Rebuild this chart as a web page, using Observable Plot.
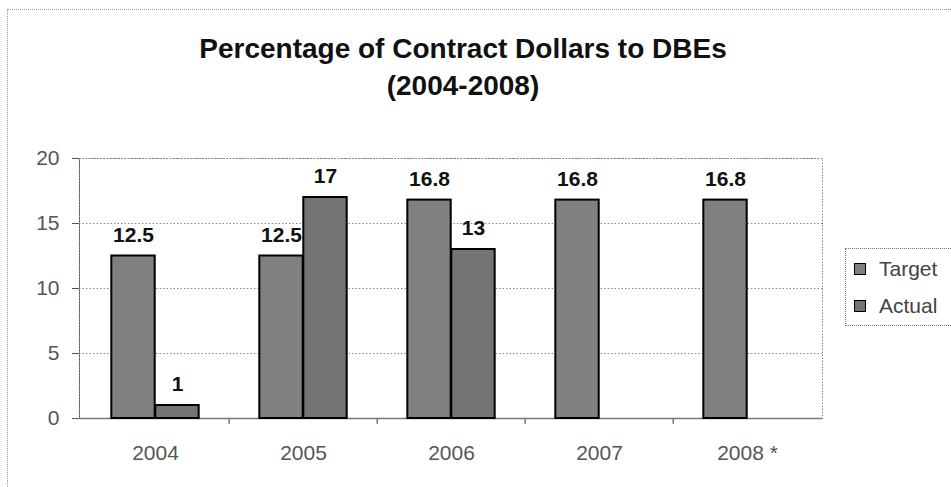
<!DOCTYPE html>
<html><head><meta charset="utf-8">
<script src="https://cdn.jsdelivr.net/npm/d3@7"></script>
<script src="https://cdn.jsdelivr.net/npm/@observablehq/plot@0.6"></script>
<style>
body{margin:0;background:#fff;font-family:"Liberation Sans",Arial,sans-serif;}
#wrap{position:relative;width:951px;height:487px;overflow:hidden;background:#fff;}
#border{position:absolute;left:7px;top:9px;width:1000px;height:600px;border:1px dotted #999;}
#title{position:absolute;left:0;top:0;width:926px;text-align:center;font-weight:bold;font-size:28px;line-height:37px;padding-top:30px;color:#111;}
#chart{position:absolute;left:0;top:110px;}
#legend{position:absolute;left:845px;top:248px;width:130px;height:76px;border:1px dotted #777;font-size:21px;color:#444;}
.item{position:absolute;left:8px;display:flex;align-items:center;height:24px;line-height:24px;}
.sw{width:10px;height:10px;border:1px solid #000;margin-right:13px;}
</style>
</head><body>
<div id="wrap">
  <div id="border"></div>
  <div id="title">Percentage of Contract Dollars to DBEs<br>(2004-2008)</div>
  <div id="chart"></div>
  <div id="legend"></div>
</div>
<script>
const categories = ["2004", "2005", "2006", "2007", "2008 *"];
const series = ["Target", "Actual"];
const targetValues = [12.5, 12.5, 16.8, 16.8, 16.8];
const actualValues = [1, 17, 13, null, null];
const yTicks = [0, 5, 10, 15, 20];
const colors = ["#808080", "#747474"];

const targetData = categories.map((c, i) => ({year: c, series: "Target", value: targetValues[i]}));
const actualData = categories.map((c, i) => ({year: c, series: "Actual", value: actualValues[i]})).filter(d => d.value != null);

const W = 951, H = 377, mL = 79, mR = 129, mT = 48, mB = 69;
const bw = (W - mL - mR) / categories.length;
const barW = bw * 0.296;
const gap = bw / 2 - barW;

const tickSymbol = {draw(ctx, size) { const l = Math.sqrt(size); ctx.moveTo(0, 0); ctx.lineTo(0, l); }};

const chart = Plot.plot({
  width: W, height: H,
  marginLeft: mL, marginRight: mR, marginTop: mT, marginBottom: mB,
  style: {fontFamily: "Liberation Sans, Arial, sans-serif", fontSize: "21px", color: "#555", background: "transparent"},
  x: {domain: categories, padding: 0, label: null, tickSize: 0, tickPadding: 27},
  y: {domain: [0, 20], ticks: yTicks, label: null, tickSize: 7, tickPadding: 13, line: true},
  color: {domain: series, range: colors},
  marks: [
    Plot.frame({stroke: "#888", strokeDasharray: "1.5,1.5"}),
    Plot.ruleY(yTicks.filter(t => t > 0), {stroke: "#888", strokeDasharray: "1.5,2"}),
    Plot.ruleY([0], {stroke: "#777", strokeWidth: 1.5}),
    Plot.dot(categories.slice(1), {x: d => d, y: () => 0, dx: -bw / 2, symbol: tickSymbol, r: 2.9, stroke: "#777", fill: "none"}),
    Plot.barY(targetData, {x: "year", y: "value", fill: "series", stroke: "#000", strokeWidth: 2, insetLeft: gap, insetRight: gap + barW}),
    Plot.barY(actualData, {x: "year", y: "value", fill: "series", stroke: "#000", strokeWidth: 2, insetLeft: gap + barW, insetRight: gap}),
    Plot.text(targetData, {x: "year", y: "value", text: d => String(d.value), dx: -barW / 2, dy: -21, fontWeight: "bold", fontSize: 21, fill: "#111"}),
    Plot.text(actualData, {x: "year", y: "value", text: d => String(d.value), dx: barW / 2, dy: -21, fontWeight: "bold", fontSize: 21, fill: "#111"})
  ]
});
document.getElementById("chart").appendChild(chart);

const legend = document.getElementById("legend");
series.forEach((s, i) => {
  const item = document.createElement("div");
  item.className = "item";
  item.style.top = (i === 0 ? 8 : 45) + "px";
  item.innerHTML = `<span class="sw" style="background:${colors[i]}"></span><span>${s}</span>`;
  legend.appendChild(item);
});
</script>
</body></html>
